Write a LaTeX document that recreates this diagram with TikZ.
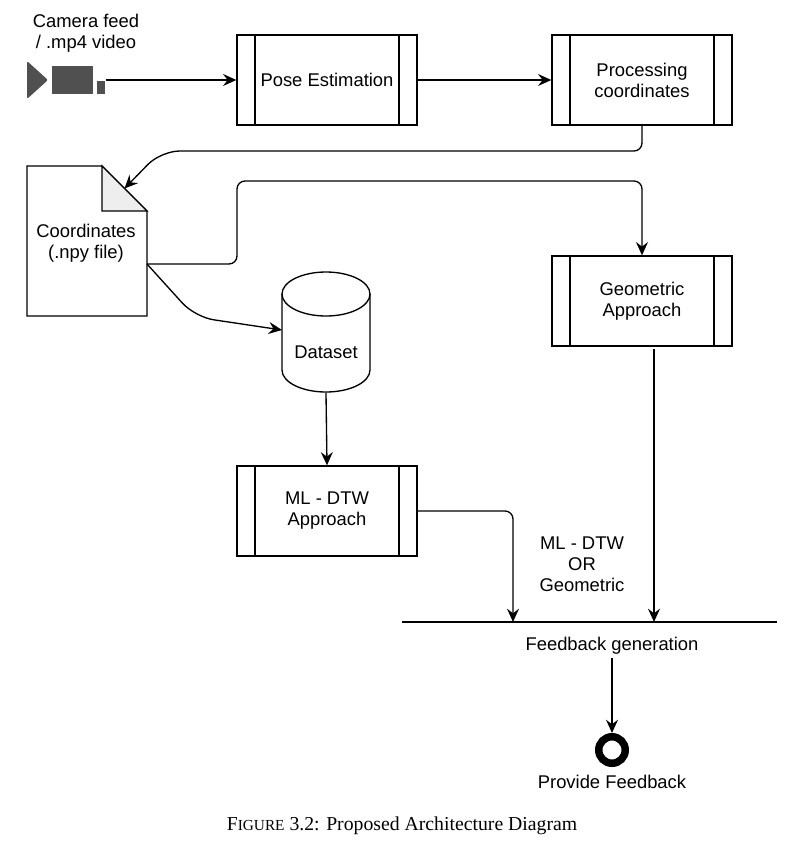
\documentclass[tikz,border=0pt]{standalone}
\usepackage{fontspec}
\setmainfont{Liberation Sans}
\newfontfamily\capfont{Liberation Serif}
\usetikzlibrary{arrows.meta,calc}
\definecolor{camgray}{HTML}{505050}
\definecolor{foldgray}{HTML}{EEEEEE}
\begin{document}
\begin{tikzpicture}[x=0.75pt,y=-0.75pt,
  line width=1pt,
  font=\fontsize{13.8}{15.75}\selectfont,
  arr/.style={-{Stealth[length=10pt,width=9pt,inset=3.5pt]}},
  procbox/.style={draw,rectangle,minimum width=135pt,minimum height=67.5pt,align=center,inner sep=0pt,
    path picture={\draw[line width=1pt] ([xshift=13.5pt]path picture bounding box.north west) -- ([xshift=13.5pt]path picture bounding box.south west);
      \draw[line width=1pt] ([xshift=-13.5pt]path picture bounding box.north east) -- ([xshift=-13.5pt]path picture bounding box.south east);}},
  txt/.style={align=center,inner sep=0pt}
]
\useasboundingbox (0,0) rectangle (811,847);

% camera
\node[txt] (camtxt) at (86,33) {Camera feed\\/ .mp4 video};
\node[inner sep=0pt,minimum width=58.5pt,minimum height=28.5pt] (cam) at (66,80) {};
\fill[camgray,rounded corners=1.5pt] (27,61) -- (48,80) -- (27,99) -- cycle;
\fill[camgray] (52,66) rectangle (93,94);
\fill[camgray] (97,81) rectangle (105,94);

% process boxes
\node[procbox] (pose) at (327,80) {Pose Estimation};
\node[procbox] (proc) at (642,80) {Processing\\coordinates};
\node[procbox] (geo) at (642,301) {Geometric\\Approach};
\node[procbox] (ml) at (327,511) {ML - DTW\\Approach};

% document
\node[inner sep=0pt,minimum width=90pt,minimum height=112.5pt] (doc) at (87,241) {};
\draw (27,166) -- (102,166) -- (147,211) -- (147,316) -- (27,316) -- cycle;
\draw[fill=foldgray] (102,166) -- (102,211) -- (147,211) -- cycle;
\node[txt] (doctxt) at (86,243) {Coordinates\\(.npy file)};
\coordinate (fold) at (124.5,188.5);
\coordinate (docout) at (147,264);

% dataset cylinder
\node[inner sep=0pt,minimum width=66pt,minimum height=90pt] (ds) at (326,332) {};
\draw[fill=white] (282,294) -- (282,370) arc[start angle=180,end angle=360,x radius=44,y radius=-22] -- (370,294);
\draw (326,294) ellipse[x radius=44,y radius=22];
\node[txt] (dstxt) at (326,352) {Dataset};
\coordinate (dsin) at (282,330);

% feedback bar
\coordinate (barL) at (402,622);
\coordinate (barR) at (777,622);
\coordinate (barA) at (513,622);
\coordinate (barB) at (654,622);
\draw (barL) -- (barR);
\node[txt] (ortxt) at (582,564.5) {ML - DTW\\OR\\Geometric};
\node[txt] (fbt) at (612,645.5) {Feedback generation};
\node[circle,draw,line width=5.6pt,minimum size=19.9pt,inner sep=0pt] (end) at (612,750) {};
\node[txt] (provide) at (612,782) {Provide Feedback};

% connectors
\draw[arr] (cam.east) -- (pose.west);
\draw[arr] (pose.east) -- (proc.west);
\draw[arr,rounded corners=6pt] (proc.south) -- (642,151) [rounded corners=14pt] -- (161,151) -- (fold);
\draw[arr,rounded corners=6pt] (docout) -- (237,264) -- (237,181) -- (642,181) -- (geo.north);
\draw[arr,rounded corners=14pt] (docout) -- (195,317) -- (dsin);
\draw[arr] (ds.south) -- (ml.north);
\draw[arr,rounded corners=6pt] (ml.east) -| (barA);
\draw[arr] ([xshift=9pt,yshift=-2pt]geo.south) -- (barB);
\draw[arr] ([yshift=-2.5pt]fbt.south) -- (end.north);

% caption
\node[inner sep=0pt,font=\capfont\fontsize{14.8}{17}\selectfont] (cap) at (402,826) {F{\fontsize{11.5}{17}\selectfont IGURE} 3.2: Proposed Architecture Diagram};
\end{tikzpicture}
\end{document}
